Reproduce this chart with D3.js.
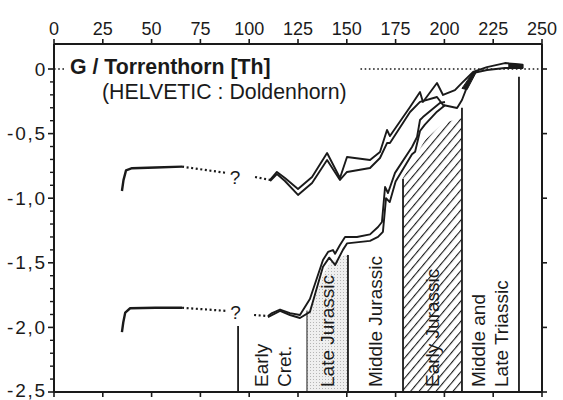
<!DOCTYPE html>
<html><head><meta charset="utf-8">
<script src="https://cdn.jsdelivr.net/npm/d3@7/dist/d3.min.js"></script>
<style>
body{margin:0;background:#fff}
svg{display:block}
text{font-family:"Liberation Sans",Arial,Helvetica,sans-serif;fill:#1a1a1a}
</style>
</head><body>
<svg id="chart" width="563" height="400"></svg>
<script>
// ---- data ----
const xTickValues = [0,25,50,75,100,125,150,175,200,225,250];
const yTickValues = [0,-0.5,-1,-1.5,-2,-2.5];
const yTickLabels = ["0","-0,5","-1,0","-1,5","-2,0","-2,5"];
const yMinorTicks = [-0.1,-0.2,-0.3,-0.4,-0.6,-0.7,-0.8,-0.9,-1.1,-1.2,-1.3,-1.4,-1.6,-1.7,-1.8,-1.9,-2.1,-2.2,-2.3,-2.4];

const titleText = "G / Torrenthorn [Th]";
const subtitleText = "(HELVETIC : Doldenhorn)";

// upper curve (two traces)
const upperLeft = [[34.8,-0.944],[35.6,-0.86],[36.9,-0.785],[40,-0.768],[52,-0.762],[65.6,-0.756]];
const upperDotsA = [[65.6,-0.756],[88.6,-0.805]];
const upperDotsB = [[103,-0.836],[110.7,-0.859]];
const upperA = [[110.7,-0.859],[114.2,-0.797],[118.3,-0.844],[125.0,-0.929],[132.2,-0.836],[139.9,-0.650],[146.5,-0.844],[150.1,-0.681],[161.9,-0.704],[167.0,-0.642],[170.6,-0.472],[172.1,-0.519],[182.4,-0.294],[187.5,-0.178],[189.0,-0.255],[196.2,-0.108],[199.3,-0.201],[205.4,-0.163],[209.0,-0.108],[214.7,-0.023],[221.8,0.015],[231.0,0.046],[236.2,0.039],[240.3,0.031]];
const upperB = [[110.7,-0.867],[114.2,-0.813],[118.3,-0.867],[125.0,-0.975],[132.2,-0.882],[139.9,-0.704],[146.5,-0.859],[150.1,-0.797],[161.9,-0.766],[167.0,-0.689],[170.6,-0.573],[172.1,-0.573],[182.4,-0.333],[187.5,-0.255],[196.2,-0.217],[199.3,-0.279],[206.5,-0.302],[209.0,-0.240],[211.6,-0.139],[214.7,-0.031],[221.8,-0.008],[231.0,0.008],[240.3,0.008]];
// filled (inked) parts of the upper band
const wedge1 = [[209.0,-0.15],[214.7,-0.023],[216.5,-0.02],[211.6,-0.16]];
const wedge2 = [[233.0,0.040],[240.3,0.036],[240.3,0.006],[233.0,0.010]];

// lower curve (two traces)
const lowerLeft = [[34.8,-2.036],[35.5,-1.96],[36.5,-1.885],[39,-1.852],[52,-1.848],[65.6,-1.848]];
const lowerDotsA = [[65.6,-1.848],[89,-1.873]];
const lowerDotsB = [[102.5,-1.904],[109.6,-1.912]];
const lowerC = [[109.6,-1.912],[111.7,-1.889],[115.8,-1.862],[120.9,-1.889],[126.0,-1.904],[131.1,-1.78],[137.8,-1.478],[140.4,-1.416],[142.9,-1.401],[144.0,-1.430],[146.5,-1.362],[149.1,-1.300],[155.2,-1.300],[161.9,-1.280],[166.0,-1.223],[168.0,-1.184],[169.6,-0.913],[171.1,-0.960],[174.7,-0.804],[183.4,-0.604],[186.0,-0.526],[187.5,-0.395],[189.0,-0.372],[195.2,-0.294],[197.7,-0.263],[200.3,-0.255]];
const lowerD = [[109.6,-1.920],[115.8,-1.873],[120.9,-1.904],[126.0,-1.927],[131.1,-1.880],[137.8,-1.530],[141.0,-1.460],[144.0,-1.517],[148.0,-1.400],[150.1,-1.350],[161.9,-1.330],[166.0,-1.300],[168.5,-1.260],[170.1,-1.000],[172.0,-1.030],[175.0,-0.870],[183.4,-0.660],[185.0,-0.640],[187.5,-0.480],[190.0,-0.430],[196.2,-0.330],[200.3,-0.280]];

const questionMarks = [[92.7,-0.836],[93.0,-1.885]];
const zeroDots = [[[0,0],[6,0]],[[157,0],[250,0]]];

// stratigraphic periods
const periodNames = [["Early","Cret."],["Late Jurassic"],["Middle Jurassic"],["Early Jurassic"],["Middle and","Late Triassic"]];
const periodFrom = [94.3,129.6,150.6,178.8,209.0];
const periodTo   = [129.6,150.6,178.8,209.0,238.2];
const boundaryX   = [94.3,129.6,150.6,178.8,209.0,238.2];
const boundaryTop = [-1.99,-1.87,-1.44,-0.85,-0.30,-0.06];
const stippleTop = [[129.6,-1.88],[134,-1.76],[138,-1.58],[142,-1.49],[150.6,-1.43]];
const hatchTop = [[178.8,-0.844],[190.1,-0.55],[199.3,-0.418],[209.0,-0.379]];

// ---- drawing ----
const svg = d3.select("#chart");
const x = d3.scaleLinear().domain([0,250]).range([54,542]);
const y = d3.scaleLinear().domain([-2.5,0]).range([392,69]);
const ink = "#1a1a1a";

const defs = svg.append("defs");
const hp = defs.append("pattern").attr("id","hatch").attr("patternUnits","userSpaceOnUse")
  .attr("width",6.5).attr("height",6.5).attr("patternTransform","rotate(40)");
hp.append("line").attr("x1",0).attr("y1",-1).attr("x2",0).attr("y2",8).attr("stroke",ink).attr("stroke-width",2.2);
const sp = defs.append("pattern").attr("id","stipple").attr("patternUnits","userSpaceOnUse").attr("width",3).attr("height",3);
sp.append("rect").attr("width",3).attr("height",3).attr("fill","#efefef");
sp.append("rect").attr("x",1).attr("y",1).attr("width",1).attr("height",1).attr("fill","#b5b5b5");

const area = d3.area().x(d=>x(d[0])).y0(y(-2.5)).y1(d=>y(d[1]));
svg.append("path").datum(stippleTop).attr("d",area).attr("fill","url(#stipple)");
svg.append("path").datum(hatchTop).attr("d",area).attr("fill","url(#hatch)");

// boundaries
svg.selectAll(".bd").data(boundaryX).join("line")
  .attr("x1",d=>x(d)).attr("x2",d=>x(d))
  .attr("y1",(d,i)=>y(boundaryTop[i])).attr("y2",y(-2.5))
  .attr("stroke",ink).attr("stroke-width",(d,i)=> i===1?1:1.8);

// period labels
periodNames.forEach((lines,i)=>{
  const cx = x((periodFrom[i]+periodTo[i])/2);
  const n = lines.length;
  lines.forEach((t,j)=>{
    const off = (j-(n-1)/2)*23;
    svg.append("text").attr("transform",`translate(${cx+off},387) rotate(-90)`)
      .attr("dominant-baseline","central").attr("font-size",19).text(t);
  });
});

// axes box
const g = svg.append("g");
g.append("line").attr("x1",x(0)).attr("x2",x(250)).attr("y1",44).attr("y2",44).attr("stroke",ink).attr("stroke-width",2);
g.append("line").attr("x1",x(0)).attr("x2",x(250)).attr("y1",y(-2.5)).attr("y2",y(-2.5)).attr("stroke",ink).attr("stroke-width",2);
g.append("line").attr("x1",x(0)).attr("x2",x(0)).attr("y1",44).attr("y2",y(-2.5)).attr("stroke",ink).attr("stroke-width",2);
g.append("line").attr("x1",x(250)).attr("x2",x(250)).attr("y1",44).attr("y2",y(-2.5)).attr("stroke",ink).attr("stroke-width",2);

// top ticks + labels
g.selectAll(".tt").data(xTickValues).join("line").attr("x1",d=>x(d)).attr("x2",d=>x(d)).attr("y1",44).attr("y2",39).attr("stroke",ink).attr("stroke-width",1.6);
g.selectAll(".tl").data(xTickValues).join("text").attr("x",d=>x(d)).attr("y",35).attr("text-anchor","middle").attr("font-size",18).text(d=>d);
// bottom ticks
g.selectAll(".bt").data(xTickValues).join("line").attr("x1",d=>x(d)).attr("x2",d=>x(d)).attr("y1",y(-2.5)).attr("y2",y(-2.5)+5).attr("stroke",ink).attr("stroke-width",1.6);
// left ticks
g.selectAll(".lt").data(yTickValues).join("line").attr("x1",x(0)-6).attr("x2",x(0)).attr("y1",d=>y(d)).attr("y2",d=>y(d)).attr("stroke",ink).attr("stroke-width",1.6);
g.selectAll(".lm").data(yMinorTicks).join("line").attr("x1",x(0)-4).attr("x2",x(0)).attr("y1",d=>y(d)).attr("y2",d=>y(d)).attr("stroke",ink).attr("stroke-width",1.4);
g.selectAll(".ll").data(yTickValues).join("text").attr("x",47).attr("y",d=>Math.min(y(d),390)).attr("dominant-baseline","central").attr("text-anchor","end")
  .attr("font-size",19).attr("letter-spacing","1.8px").text((d,i)=>yTickLabels[i]);
// right ticks
g.selectAll(".rt").data(yTickValues).join("line").attr("x1",x(250)).attr("x2",x(250)+5).attr("y1",d=>y(d)).attr("y2",d=>y(d)).attr("stroke",ink).attr("stroke-width",1.6);

// dotted zero lines
const line = d3.line().x(d=>x(d[0])).y(d=>y(d[1]));
zeroDots.forEach(s=>svg.append("path").attr("d",line(s)).attr("fill","none").attr("stroke",ink).attr("stroke-width",1.6).attr("stroke-dasharray","1.6,2.6"));

// dotted connectors
[upperDotsA,upperDotsB,lowerDotsA,lowerDotsB].forEach(s=>svg.append("path").attr("d",line(s)).attr("fill","none").attr("stroke",ink).attr("stroke-width",2.2).attr("stroke-dasharray","2,2.6"));

// solid curves
[upperLeft,lowerLeft].forEach(s=>svg.append("path").attr("d",line(s)).attr("fill","none").attr("stroke",ink).attr("stroke-width",2.4).attr("stroke-linejoin","round"));
[upperA,upperB,lowerC,lowerD].forEach(s=>svg.append("path").attr("d",line(s)).attr("fill","none").attr("stroke",ink).attr("stroke-width",1.9).attr("stroke-linejoin","round"));
[wedge1,wedge2].forEach(s=>svg.append("path").attr("d",line(s)+"Z").attr("fill",ink).attr("stroke",ink).attr("stroke-width",1));

// question marks
svg.selectAll(".q").data(questionMarks).join("text").attr("x",d=>x(d[0])).attr("y",d=>y(d[1])).attr("dominant-baseline","central").attr("text-anchor","middle").attr("font-size",19).text("?");

// title
svg.append("text").attr("x",70).attr("y",74).attr("font-size",21.3).attr("font-weight","bold").text(titleText);
svg.append("text").attr("x",102).attr("y",99).attr("font-size",21.3).text(subtitleText);
</script>
</body></html>
